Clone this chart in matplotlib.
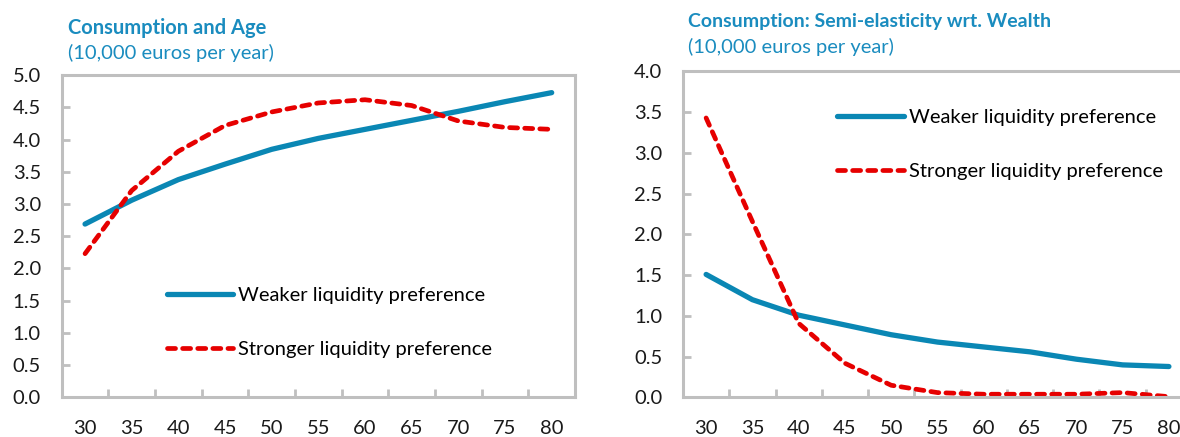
import numpy as np
import matplotlib
matplotlib.use("Agg")
import matplotlib.pyplot as plt

plt.rcParams['font.family'] = ['Lato', 'DejaVu Sans']

ages = ['30', '35', '40', '45', '50', '55', '60', '65', '70', '75', '80']

# left panel: consumption by age
cons_weak = [2.69, 3.06, 3.38, 3.62, 3.85, 4.02, 4.16, 4.30, 4.44, 4.59, 4.73]
cons_strong = [2.23, 3.21, 3.82, 4.22, 4.43, 4.57, 4.62, 4.53, 4.29, 4.19, 4.16]

# right panel: semi-elasticity wrt wealth
semi_weak = [1.51, 1.20, 1.01, 0.89, 0.77, 0.68, 0.62, 0.56, 0.47, 0.40, 0.38]
semi_strong = [3.43, 2.16, 0.91, 0.42, 0.15, 0.06, 0.04, 0.04, 0.04, 0.06, 0.01]

labels = ['Weaker liquidity preference', 'Stronger liquidity preference']

blue = '#0a87b4'
red = '#e60000'
grey = '#bfbfbf'
teal = '#1a8cbf'

fig = plt.figure(figsize=(11.8, 4.37), dpi=100)
ax1 = fig.add_axes([0.0523, 0.0908, 0.435, 0.737])
ax2 = fig.add_axes([0.5788, 0.0904, 0.4314, 0.746])


def style(ax, ymax):
    x = np.arange(len(ages))
    ax.set_xlim(-0.5, len(ages) - 0.5)
    ax.set_ylim(0, ymax)
    ax.set_xticks(x)
    ax.set_xticklabels(ages)
    ax.set_xticks(x[:-1] + 0.5, minor=True)
    ax.set_yticks(np.arange(0, ymax + 0.01, 0.5))
    ax.set_yticklabels(['%.1f' % v for v in np.arange(0, ymax + 0.01, 0.5)])
    ax.tick_params(axis='x', which='major', length=0, pad=16, labelsize=14.5, labelcolor='#1a1a1a')
    ax.tick_params(axis='x', which='minor', length=6, width=2, color=grey, direction='in')
    ax.tick_params(axis='y', length=6, width=2, color=grey, direction='in', pad=15,
                   labelsize=14.5, labelcolor='#1a1a1a')
    for s in ax.spines.values():
        s.set_color(grey)
        s.set_linewidth(2.2)


def draw(ax, weak, strong):
    x = np.arange(len(ages))
    ax.plot(x, weak, color=blue, lw=3.8, solid_capstyle='round', solid_joinstyle='round',
            label=labels[0])
    ax.plot(x, strong, color=red, lw=3.4, dashes=(1.7, 1.5), dash_capstyle='round',
            label=labels[1])


style(ax1, 5.0)
draw(ax1, cons_weak, cons_strong)
style(ax2, 4.0)
draw(ax2, semi_weak, semi_strong)

leg_kw = dict(frameon=False, fontsize=14.5, handlelength=3.3, handletextpad=0.25,
              labelspacing=1.85, borderpad=0, borderaxespad=0, loc='upper left')
ax1.legend(bbox_to_anchor=(0.205, 0.343), **leg_kw)
ax2.legend(bbox_to_anchor=(0.303, 0.885), **leg_kw)

fig.text(68 / 1180, 1 - 28 / 437, 'Consumption and Age', color=teal, fontsize=14.5,
         fontweight='bold', va='center', ha='left')
fig.text(68 / 1180, 1 - 53 / 437, '(10,000 euros per year)', color=teal, fontsize=14.5,
         va='center', ha='left')
fig.text(688 / 1180, 1 - 22 / 437, 'Consumption: Semi-elasticity wrt. Wealth', color=teal,
         fontsize=14, fontweight='bold', va='center', ha='left')
fig.text(688 / 1180, 1 - 47 / 437, '(10,000 euros per year)', color=teal, fontsize=14.5,
         va='center', ha='left')

fig.savefig('out.png', dpi=100)
